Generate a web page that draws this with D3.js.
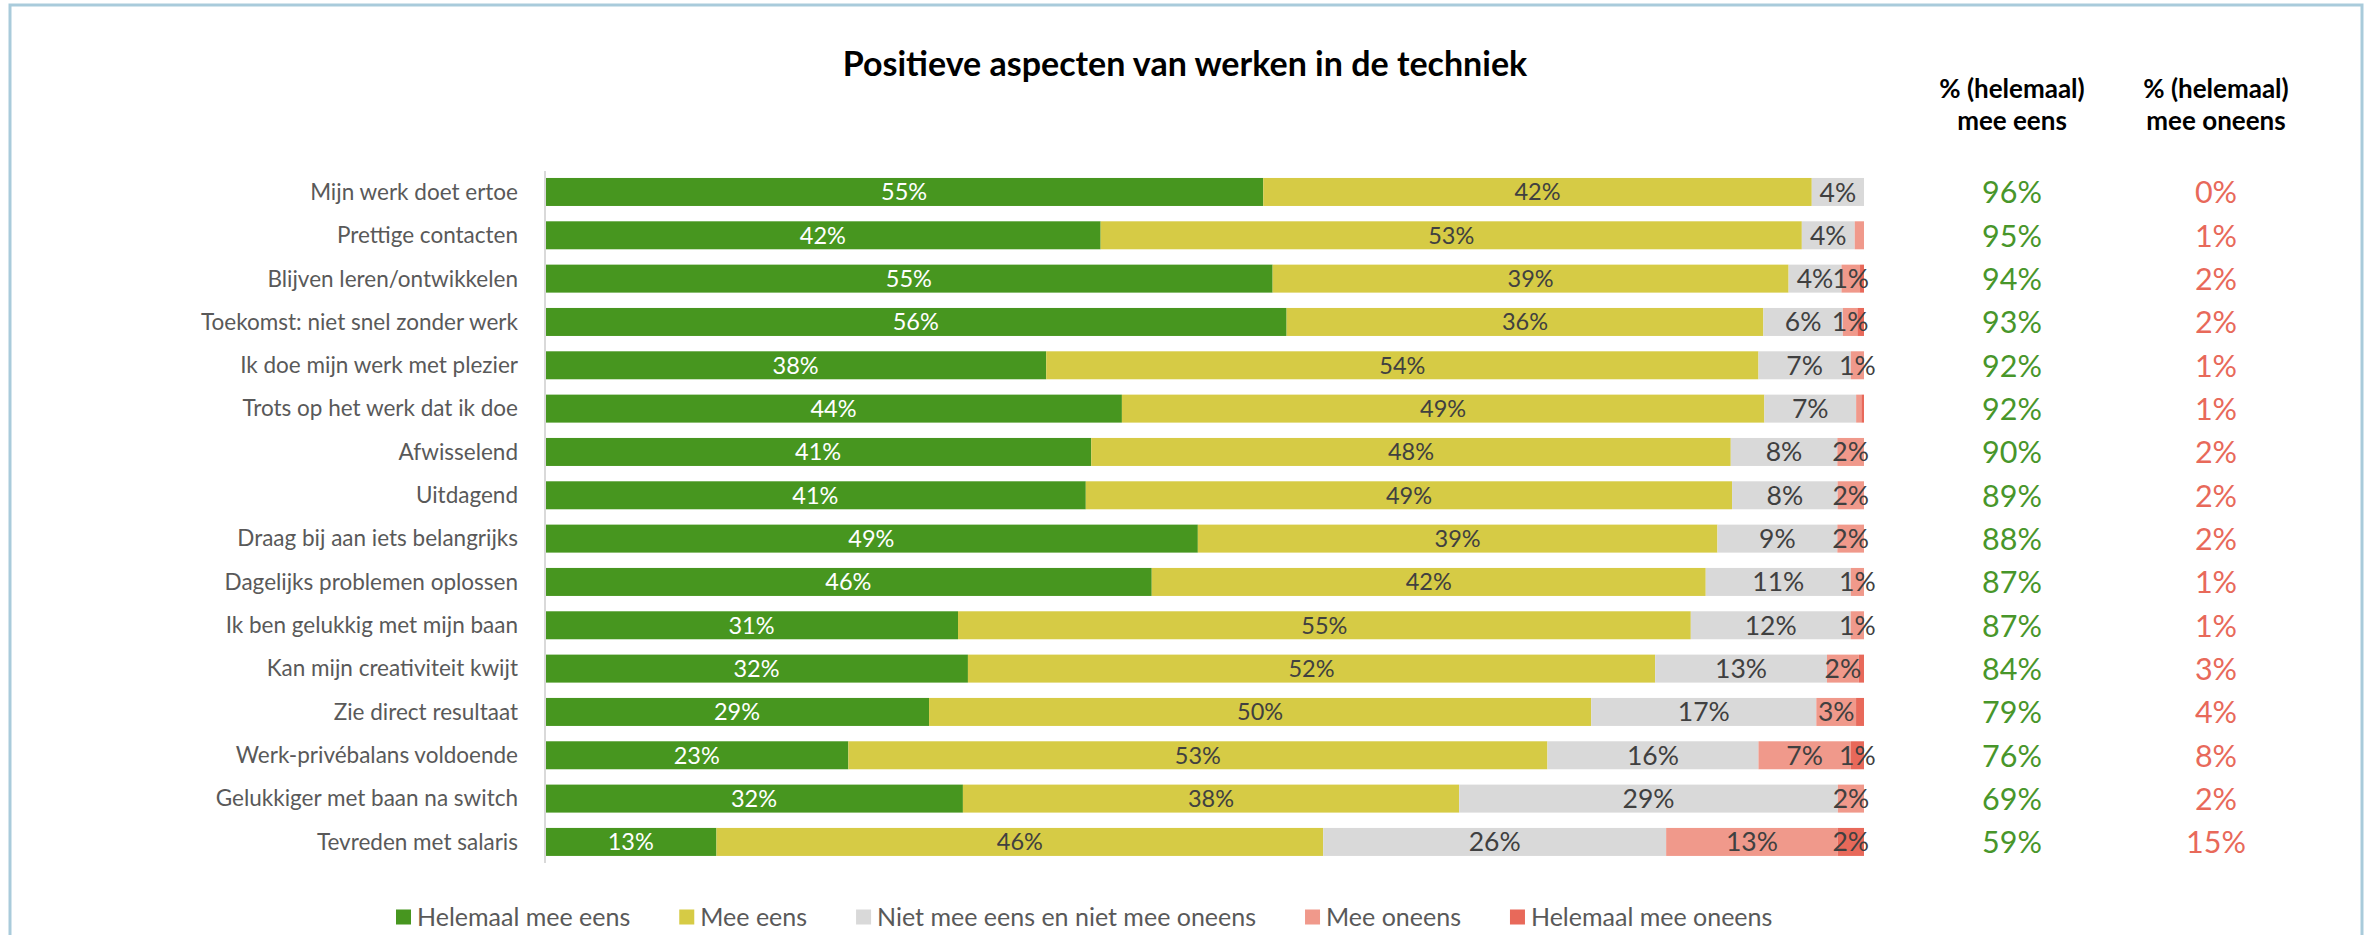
<!DOCTYPE html>
<html>
<head>
<meta charset="utf-8">
<script src="https://cdn.jsdelivr.net/npm/d3@7"></script>
<style>
  body { margin: 0; background: #fff; }
  text { font-family: Lato, "Open Sans", sans-serif; }
</style>
</head>
<body>
<div id="vis"></div>
<script>
const categories = ["Mijn werk doet ertoe", "Prettige contacten", "Blijven leren/ontwikkelen",
  "Toekomst: niet snel zonder werk", "Ik doe mijn werk met plezier", "Trots op het werk dat ik doe",
  "Afwisselend", "Uitdagend", "Draag bij aan iets belangrijks", "Dagelijks problemen oplossen",
  "Ik ben gelukkig met mijn baan", "Kan mijn creativiteit kwijt", "Zie direct resultaat",
  "Werk-privébalans voldoende", "Gelukkiger met baan na switch", "Tevreden met salaris"];

const seriesNames = ["Helemaal mee eens", "Mee eens", "Niet mee eens en niet mee oneens", "Mee oneens", "Helemaal mee oneens"];

const helemaalEens   = [55, 42, 55, 56, 38, 44, 41, 41, 49, 46, 31, 32, 29, 23, 32, 13];
const meeEens        = [42, 53, 39, 36, 54, 49, 48, 49, 39, 42, 55, 52, 50, 53, 38, 46];
const neutraal       = [4, 4, 4, 6, 7, 7, 8, 8, 9, 11, 12, 13, 17, 16, 29, 26];
const meeOneens      = [0, 0.7, 1.4, 1.1, 1, 0.4, 2, 2, 2, 1, 1, 2.4, 3, 7, 2, 13];
const helemaalOneens = [0, 0, 0.3, 0.5, 0, 0.2, 0, 0, 0, 0, 0, 0.4, 0.6, 1, 0, 2];

const totaalEens   = [96, 95, 94, 93, 92, 92, 90, 89, 88, 87, 87, 84, 79, 76, 69, 59];
const totaalOneens = [0, 1, 2, 2, 1, 1, 2, 2, 2, 1, 1, 3, 4, 8, 2, 15];

const colors = ["#47961f", "#d6cb45", "#d9d9d9", "#f0998b", "#e8695a"];
const labelSizes = ["23.5px", "23.5px", "26.5px", "26.5px", "26.5px"];

const W = 2366, H = 935;
const keys = ["a", "b", "c", "d", "e"];
const rows = categories.map((cat, i) => ({
  cat, a: helemaalEens[i], b: meeEens[i], c: neutraal[i], d: meeOneens[i], e: helemaalOneens[i]
}));

const svg = d3.select("#vis").append("svg").attr("width", W).attr("height", H);

// frame
svg.append("rect").attr("x", 10).attr("y", 5).attr("width", 2352).attr("height", H + 10)
  .attr("fill", "none").attr("stroke", "#a9cbdb").attr("stroke-width", 3);

svg.append("text").attr("x", 1185).attr("y", 76).attr("text-anchor", "middle")
  .style("font-weight", "bold").style("font-size", "34px").attr("fill", "#000")
  .text("Positieve aspecten van werken in de techniek");

const x = d3.scaleLinear().domain([0, 1]).range([545, 1864]);
const y = d3.scaleBand().domain(categories).range([170.3, 863.6]).paddingInner(0.354).paddingOuter(0.177);

const stacked = d3.stack().keys(keys).offset(d3.stackOffsetExpand)(rows);

const layers = svg.selectAll("g.layer").data(stacked).enter().append("g")
  .attr("class", "layer").attr("fill", (d, i) => colors[i]);

layers.selectAll("rect").data(d => d).enter().append("rect")
  .attr("x", d => x(d[0]))
  .attr("y", d => y(d.data.cat))
  .attr("width", d => x(d[1]) - x(d[0]))
  .attr("height", y.bandwidth());

// category axis
svg.append("line").attr("x1", x(0)).attr("x2", x(0)).attr("y1", 171).attr("y2", 863)
  .attr("stroke", "#d9d9d9").attr("stroke-width", 2);

svg.selectAll("text.cat").data(categories).enter().append("text")
  .attr("class", "cat").attr("x", 518).attr("y", d => y(d) + y.bandwidth() / 2)
  .attr("dy", "0.35em").attr("text-anchor", "end")
  .style("font-size", "22.5px").attr("fill", "#595959").text(d => d);

// data labels
stacked.forEach((layer, li) => {
  svg.append("g").selectAll("text").data(layer.filter(d => d.data[keys[li]] >= 1)).enter().append("text")
    .attr("x", d => (x(d[0]) + x(d[1])) / 2)
    .attr("y", d => y(d.data.cat) + y.bandwidth() / 2)
    .attr("dy", "0.36em").attr("text-anchor", "middle")
    .style("font-size", labelSizes[li])
    .attr("fill", li === 0 ? "#fff" : "#404040")
    .text(d => Math.round(d.data[keys[li]]) + "%");
});

// right columns
const col1 = 2012, col2 = 2216;
[[col1, ["% (helemaal)", "mee eens"]], [col2, ["% (helemaal)", "mee oneens"]]].forEach(([cx, lines]) => {
  lines.forEach((t, i) => {
    svg.append("text").attr("x", cx).attr("y", 98 + i * 32).attr("text-anchor", "middle")
      .style("font-weight", "bold").style("font-size", "26px").attr("fill", "#000").text(t);
  });
});

svg.selectAll("text.eens").data(totaalEens).enter().append("text")
  .attr("class", "eens").attr("x", col1).attr("y", (d, i) => y(categories[i]) + y.bandwidth() / 2)
  .attr("dy", "0.37em").attr("text-anchor", "middle")
  .style("font-size", "30.5px").attr("fill", "#48962a").text(d => d + "%");

svg.selectAll("text.oneens").data(totaalOneens).enter().append("text")
  .attr("class", "oneens").attr("x", col2).attr("y", (d, i) => y(categories[i]) + y.bandwidth() / 2)
  .attr("dy", "0.37em").attr("text-anchor", "middle")
  .style("font-size", "30.5px").attr("fill", "#e8695a").text(d => d + "%");

// legend
const legend = svg.append("g").attr("transform", "translate(396, 917)");
let lx = 0;
seriesNames.forEach((name, i) => {
  const g = legend.append("g").attr("transform", `translate(${lx},0)`);
  g.append("rect").attr("x", 0).attr("y", -7.5).attr("width", 15).attr("height", 15).attr("fill", colors[i]);
  const t = g.append("text").attr("x", 21).attr("y", 0).attr("dy", "0.35em")
    .style("font-size", "25px").attr("fill", "#595959").text(name);
  lx += 21 + t.node().getComputedTextLength() + 49;
});
</script>
</body>
</html>
